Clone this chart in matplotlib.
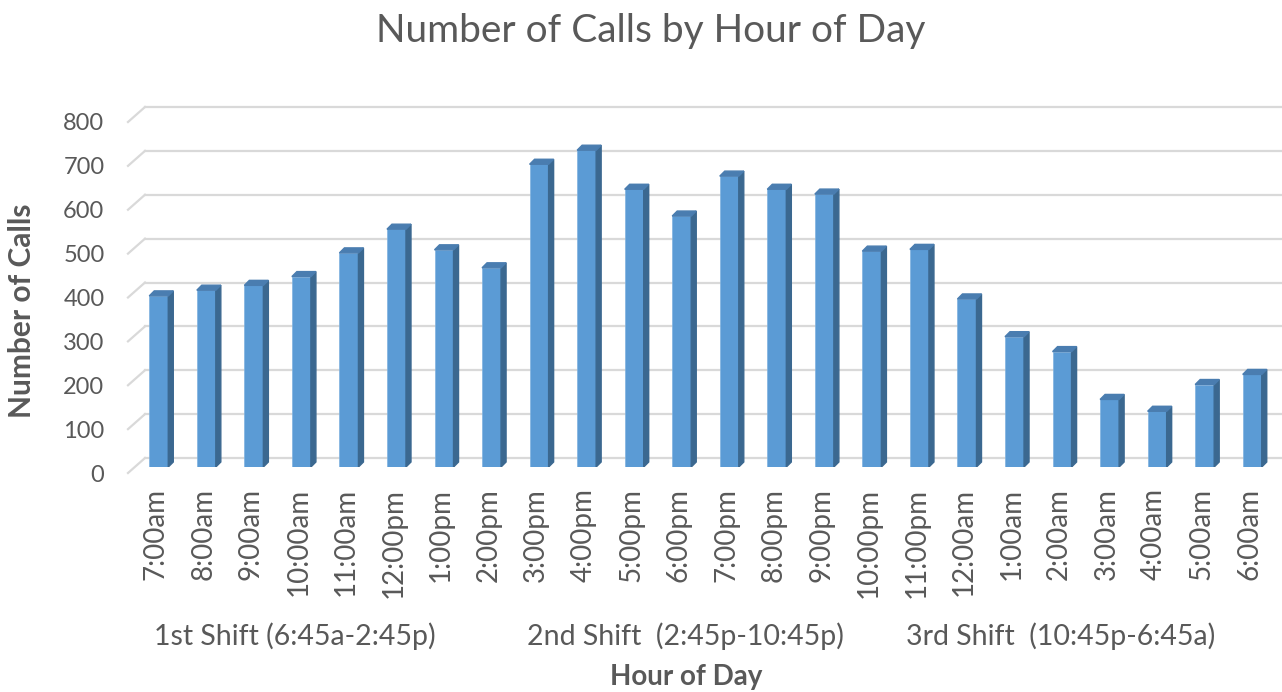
import numpy as np
import matplotlib.pyplot as plt
from matplotlib.patches import Polygon
from matplotlib.transforms import ScaledTranslation

plt.rcParams['font.family'] = ['Lato', 'DejaVu Sans']

hours = ["7:00am", "8:00am", "9:00am", "10:00am", "11:00am", "12:00pm",
         "1:00pm", "2:00pm", "3:00pm", "4:00pm", "5:00pm", "6:00pm",
         "7:00pm", "8:00pm", "9:00pm", "10:00pm", "11:00pm", "12:00am",
         "1:00am", "2:00am", "3:00am", "4:00am", "5:00am", "6:00am"]
calls = [390, 403, 414, 434, 488, 542, 495, 454, 690, 722, 633, 572,
         663, 633, 622, 492, 496, 383, 297, 263, 154, 127, 188, 211]
shifts = ["1st Shift (6:45a-2:45p)", "2nd Shift  (2:45p-10:45p)",
          "3rd Shift  (10:45p-6:45a)"]
yticks = [0, 100, 200, 300, 400, 500, 600, 700, 800]

W, H, DPI = 1282, 692, 100
txt = '#595959'
grid = '#d9d9d9'
front, side, top = '#5b9bd5', '#3b6890', '#4a7db0'

fig = plt.figure(figsize=(W / DPI, H / DPI), dpi=DPI)
ax = fig.add_axes([135 / W, 1 - 467 / H, (1276 - 135) / W, 351 / H])
x = np.arange(len(hours))
ax.set_xlim(-0.5, len(hours) - 0.5)
ax.set_ylim(0, 800)

# pixels -> data units
xs = ax.bbox.width / 24.0
ys = ax.bbox.height / 800.0
x0 = -0.5

# back-wall gridlines with the slanted floor/wall edge
for g in yticks:
    ax.plot([x0 + 10 / xs, len(hours) + 1], [g + 9 / ys] * 2, color=grid,
            lw=1.6, clip_on=False, zorder=0)
    ax.plot([x0 - 7 / xs, x0 + 10 / xs], [g - 6 / ys, g + 9 / ys],
            color=grid, lw=1.6, clip_on=False, zorder=0)

w = 0.4
ax.bar(x, calls, width=w, color=front, edgecolor='#7fb2e0', linewidth=0.5,
       zorder=3)
dx, dy = 5 / xs, 5 / ys
for i, v in zip(x, calls):
    xr = i + w / 2
    ax.add_patch(Polygon([(xr, 0), (xr + dx, dy), (xr + dx, v + dy), (xr, v)],
                         closed=True, color=side, zorder=3))
    ax.add_patch(Polygon([(i - w / 2, v), (xr, v), (xr + dx, v + dy),
                          (i - w / 2 + dx, v + dy)],
                         closed=True, color=top, zorder=3))

for s in ax.spines.values():
    s.set_visible(False)
ax.tick_params(length=0, colors=txt)

ax.set_yticks(yticks, [str(t) for t in yticks], fontsize=17)
ax.tick_params(axis='y', pad=22)
for lbl in ax.get_yticklabels():
    lbl.set_transform(lbl.get_transform() +
                      ScaledTranslation(0, -6 / DPI, fig.dpi_scale_trans))

ax.set_xticks(x, hours, rotation=90, fontsize=20)
ax.tick_params(axis='x', pad=15)
for lbl in ax.get_xticklabels():
    lbl.set_transform(lbl.get_transform() +
                      ScaledTranslation(-3 / DPI, 0, fig.dpi_scale_trans))

fig.text(651 / W, 1 - 31 / H, "Number of Calls by Hour of Day",
         ha='center', va='center', fontsize=28, color=txt)
for cx, s in zip([295, 685, 1061], shifts):
    fig.text(cx / W, 1 - 636 / H, s, ha='center', va='center',
             fontsize=20.5, color=txt)
fig.text(686 / W, 1 - 677 / H, "Hour of Day", ha='center', va='center',
         fontsize=20, fontweight='bold', color=txt)
fig.text(22 / W, 1 - 311 / H, "Number of Calls", ha='center', va='center',
         rotation=90, fontsize=21.5, fontweight='bold', color=txt)

fig.savefig('out.png', dpi=DPI)
